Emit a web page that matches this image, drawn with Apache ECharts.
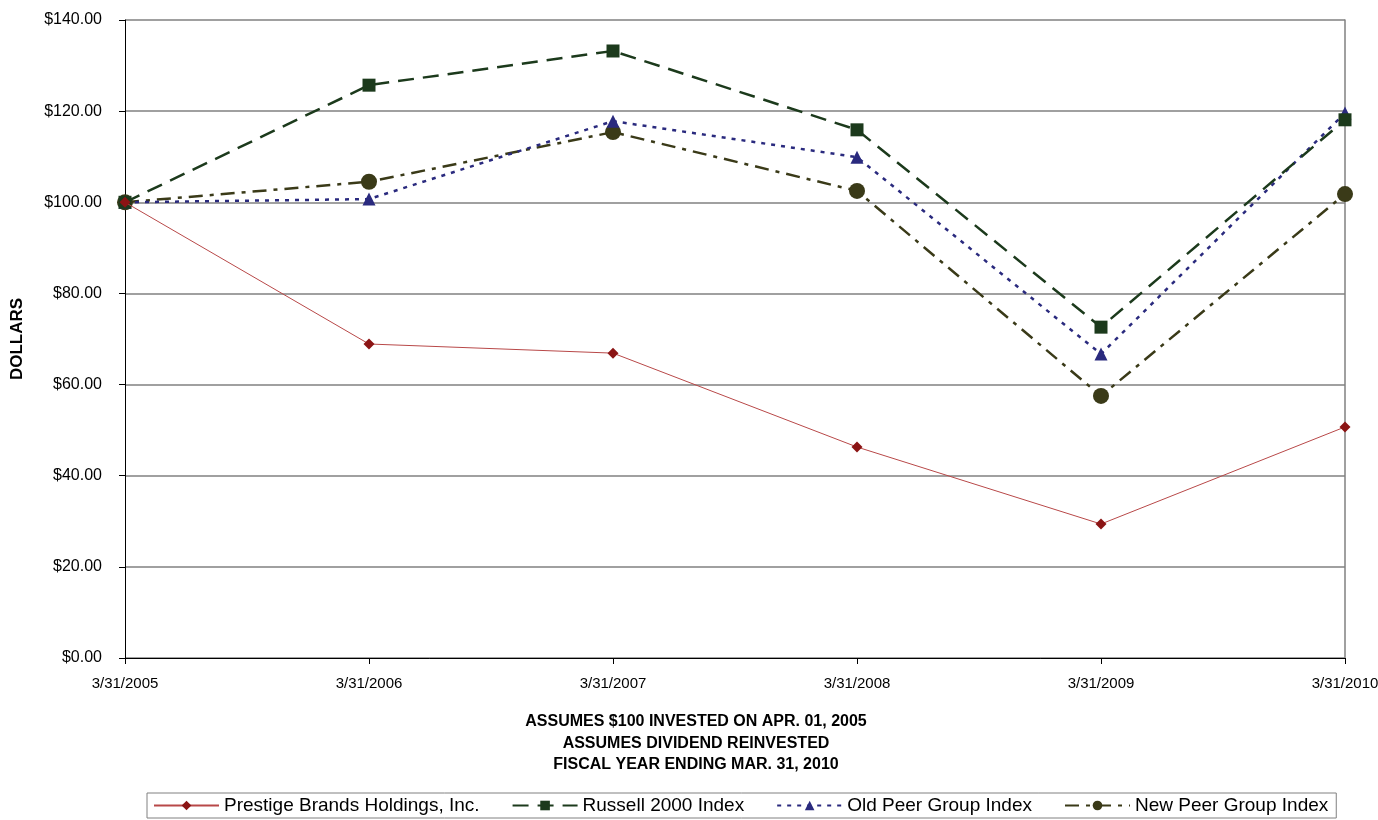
<!DOCTYPE html>
<html>
<head>
<meta charset="utf-8">
<script src="https://cdn.jsdelivr.net/npm/echarts@6/dist/echarts.min.js"></script>
<style>html,body{margin:0;padding:0;background:#fff}#c{width:1378px;height:820px}</style>
</head>
<body>
<div id="c"></div>
<script>
const categories = ['3/31/2005','3/31/2006','3/31/2007','3/31/2008','3/31/2009','3/31/2010'];
const prestige = [100, 68.9, 66.9, 46.3, 29.4, 50.7];
const russell = [100, 125.7, 133.2, 115.9, 72.6, 118.1];
const oldPeer = [100, 100.7, 117.8, 109.9, 66.7, 119.6];
const newPeer = [100, 104.5, 115.4, 102.5, 57.5, 101.8];
const seriesNames = ['Prestige Brands Holdings, Inc.', 'Russell 2000 Index', 'Old Peer Group Index', 'New Peer Group Index'];
const subtitle = ['ASSUMES $100 INVESTED ON APR. 01, 2005', 'ASSUMES DIVIDEND REINVESTED', 'FISCAL YEAR ENDING MAR. 31, 2010'];

const font = 'Liberation Sans, Arial, sans-serif';
const chart = echarts.init(document.getElementById('c'));
chart.setOption({
  animation: false,
  textStyle: {fontFamily: font},
  title: {
    text: subtitle.join('\n'),
    left: 691, top: 706, textAlign: 'center',
    textStyle: {fontSize: 16, fontWeight: 'bold', color: '#000', lineHeight: 21.5, fontFamily: font}
  },
  legend: {
    left: 147, top: 793, width: 1190,
    borderColor: '#808080', borderWidth: 1, padding: [3, 8, 3, 6],
    itemWidth: 65, itemHeight: 12, itemGap: 32,
    textStyle: {fontSize: 19, color: '#000', fontFamily: font},
    data: seriesNames
  },
  grid: {left: 125, right: 33, top: 20, bottom: 162, containLabel: false, outerBoundsMode: 'none'},
  xAxis: {
    type: 'category', data: categories, boundaryGap: false,
    axisLine: {lineStyle: {color: '#000', width: 1}},
    axisTick: {show: true, length: 6, lineStyle: {color: '#000'}},
    axisLabel: {color: '#000', fontSize: 15, margin: 18, fontFamily: font}
  },
  yAxis: [{
    type: 'value', min: 0, max: 140, interval: 20,
    name: 'DOLLARS', nameLocation: 'middle', nameGap: 99, nameRotate: 90,
    nameTextStyle: {fontSize: 17, fontWeight: 'bold', color: '#000', fontFamily: font},
    axisLine: {show: true, lineStyle: {color: '#000'}},
    axisTick: {show: true, length: 6, lineStyle: {color: '#000'}},
    axisLabel: {color: '#000', fontSize: 16, margin: 23, fontFamily: font,
      formatter: v => '$' + v.toFixed(2)},
    splitLine: {show: true, lineStyle: {color: '#808080', width: 1.5}}
  }, {
    type: 'value', min: 0, max: 140, interval: 20, position: 'right',
    axisLine: {show: true, lineStyle: {color: '#808080', width: 1.5}},
    axisTick: {show: false}, axisLabel: {show: false}, splitLine: {show: false}
  }],
  series: [
    {name: seriesNames[0], type: 'line', data: prestige, symbol: 'diamond', symbolSize: 11,
      lineStyle: {color: '#B84848', width: 1}, itemStyle: {color: '#8B1414'}, z: 5},
    {name: seriesNames[1], type: 'line', data: russell, symbol: 'rect', symbolSize: 13,
      lineStyle: {color: '#1C3A1C', width: 2.5, type: [16, 9]}, itemStyle: {color: '#1C3A1C'}, z: 4},
    {name: seriesNames[2], type: 'line', data: oldPeer, symbol: 'triangle', symbolSize: 13,
      lineStyle: {color: '#2A2A7E', width: 2.5, type: [4, 6]}, itemStyle: {color: '#2A2A7E'}, z: 3},
    {name: seriesNames[3], type: 'line', data: newPeer, symbol: 'circle', symbolSize: 16,
      lineStyle: {color: '#3A3A18', width: 2.5, type: [14, 7, 4, 7]}, itemStyle: {color: '#3A3A18'}, z: 2}
  ]
});
</script>
</body>
</html>
